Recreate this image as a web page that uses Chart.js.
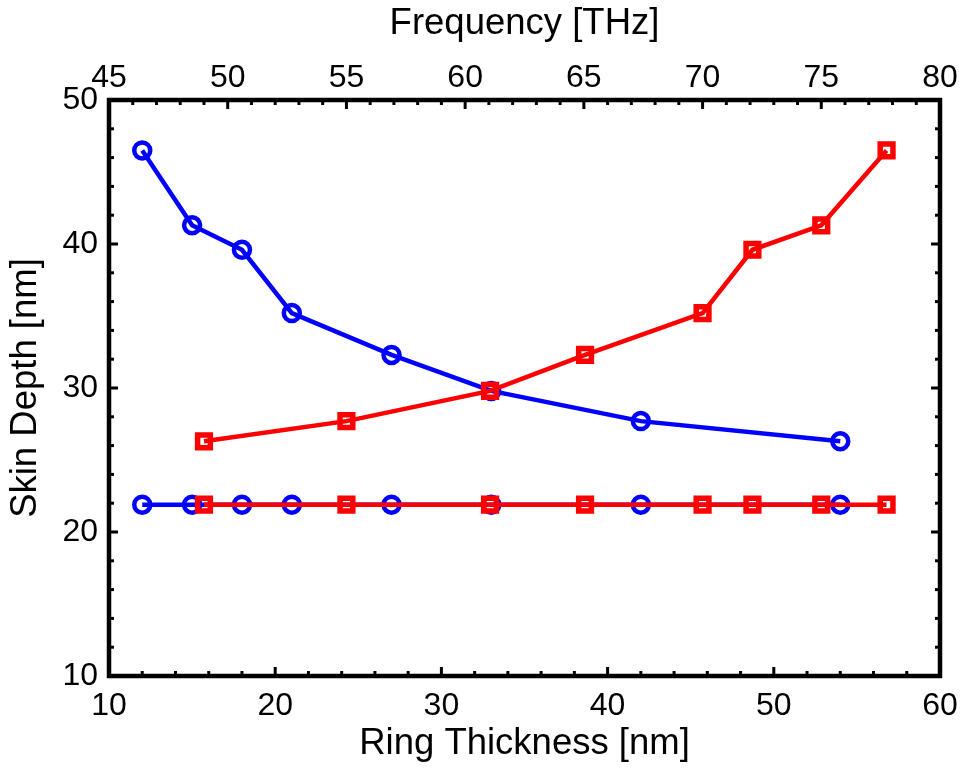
<!DOCTYPE html>
<html>
<head>
<meta charset="utf-8">
<script src="https://cdn.jsdelivr.net/npm/chart.js@4/dist/chart.umd.min.js"></script>
<style>
  html, body { margin: 0; padding: 0; background: #ffffff; }
  #wrap { width: 965px; height: 770px; }
</style>
</head>
<body>
<div id="wrap"><canvas id="c" width="965" height="770"></canvas></div>
<script>
// ---- Data ----
const thickness = [12, 15, 18, 21, 27, 33, 42, 54];                 // Ring Thickness [nm]
const depthVsThickness = [46.5, 41.3, 39.6, 35.2, 32.3, 29.8, 27.7, 26.3];
const flatVsThickness = [21.9, 21.9, 21.9, 21.9, 21.9, 21.9, 21.9, 21.9];

const frequency = [49.0, 55.0, 61.05, 65.05, 70.0, 72.1, 75.0, 77.75]; // Frequency [THz]
const depthVsFrequency = [26.3, 27.7, 29.8, 32.3, 35.2, 39.6, 41.3, 46.5];
const flatVsFrequency = [21.9, 21.9, 21.9, 21.9, 21.9, 21.9, 21.9, 21.9];

const xTitle = 'Ring Thickness [nm]';
const x2Title = 'Frequency [THz]';
const yTitle = 'Skin Depth [nm]';

const BLUE = '#0000ff';
const RED = '#ff0000';
const FONT = '"Liberation Sans", Arial, Helvetica, sans-serif';

function pts(xs, ys) { return xs.map((x, i) => ({ x: x, y: ys[i] })); }

// Inward ticks + frame, drawn through the library's scales
const frameTicks = {
  id: 'frameTicks',
  afterDatasetsDraw(chart) {
    const ctx = chart.ctx;
    const a = chart.chartArea;
    const s = chart.scales;
    ctx.save();
    ctx.strokeStyle = '#000';
    ctx.lineCap = 'butt';
    ctx.lineWidth = 3;
    const MAJ = 9, MIN = 5;
    for (let v = s.x.min; v <= s.x.max + 1e-9; v += 2) {
      const p = s.x.getPixelForValue(v);
      const L = (Math.round(v) % 10 === 0) ? MAJ : MIN;
      ctx.beginPath(); ctx.moveTo(p, a.bottom); ctx.lineTo(p, a.bottom - L); ctx.stroke();
    }
    for (let v = s.x2.min; v <= s.x2.max + 1e-9; v += 1) {
      const p = s.x2.getPixelForValue(v);
      const L = (Math.round(v) % 5 === 0) ? MAJ : MIN;
      ctx.beginPath(); ctx.moveTo(p, a.top); ctx.lineTo(p, a.top + L); ctx.stroke();
    }
    for (let v = s.y.min; v <= s.y.max + 1e-9; v += 2) {
      const p = s.y.getPixelForValue(v);
      const L = (Math.round(v) % 10 === 0) ? MAJ : MIN;
      ctx.beginPath(); ctx.moveTo(a.left, p); ctx.lineTo(a.left + L, p); ctx.stroke();
    }
    for (let v = s.y2.min; v <= s.y2.max + 1e-9; v += 2) {
      const p = s.y2.getPixelForValue(v);
      const L = (Math.round(v) % 10 === 0) ? MAJ : MIN;
      ctx.beginPath(); ctx.moveTo(a.right, p); ctx.lineTo(a.right - L, p); ctx.stroke();
    }
    ctx.lineWidth = 4.5;
    ctx.lineJoin = 'miter';
    ctx.strokeRect(a.left, a.top, a.right - a.left, a.bottom - a.top);
    ctx.restore();
  }
};

const circleStyle = {
  borderColor: BLUE, backgroundColor: 'transparent', borderWidth: 4.5,
  pointStyle: 'circle', pointRadius: 8, pointBorderWidth: 4.5,
  pointBorderColor: BLUE, pointBackgroundColor: 'transparent',
  tension: 0, xAxisID: 'x', yAxisID: 'y', order: 2
};
const squareStyle = {
  borderColor: RED, backgroundColor: 'transparent', borderWidth: 4.5,
  pointStyle: 'rect', pointRadius: 9, pointBorderWidth: 5.5,
  pointBorderColor: RED, pointBackgroundColor: 'transparent',
  tension: 0, xAxisID: 'x2', yAxisID: 'y', order: 1
};

const tickFont = { family: FONT, size: 32, lineHeight: 1 };
const titleFont = { family: FONT, size: 36.5, lineHeight: 1 };

function noPad(scale) {
  scale.paddingLeft = 0; scale.paddingRight = 0;
  scale.paddingTop = 0; scale.paddingBottom = 0;
}

new Chart(document.getElementById('c'), {
  type: 'line',
  data: {
    datasets: [
      Object.assign({ label: 'depth vs thickness', data: pts(thickness, depthVsThickness) }, circleStyle),
      Object.assign({ label: 'flat vs thickness', data: pts(thickness, flatVsThickness) }, circleStyle),
      Object.assign({ label: 'depth vs frequency', data: pts(frequency, depthVsFrequency) }, squareStyle),
      Object.assign({ label: 'flat vs frequency', data: pts(frequency, flatVsFrequency) }, squareStyle)
    ]
  },
  options: {
    responsive: false,
    animation: false,
    devicePixelRatio: 1,
    layout: { padding: 0 },
    plugins: { legend: { display: false }, tooltip: { enabled: false } },
    scales: {
      x: {
        type: 'linear', position: 'bottom', min: 10, max: 60,
        grid: { display: false, drawTicks: false },
        border: { display: false },
        ticks: { stepSize: 10, autoSkip: false, maxRotation: 0, color: '#000', font: tickFont, padding: 14 },
        title: { display: true, text: xTitle, color: '#000', font: titleFont, padding: { top: 0, bottom: 8 } },
        afterFit(scale) { scale.height = 94; noPad(scale); }
      },
      x2: {
        type: 'linear', position: 'top', min: 45, max: 80,
        grid: { display: false, drawTicks: false },
        border: { display: false },
        ticks: { stepSize: 5, autoSkip: false, maxRotation: 0, color: '#000', font: tickFont, padding: 6 },
        title: { display: true, text: x2Title, color: '#000', font: titleFont, padding: { top: 6, bottom: 0 } },
        afterFit(scale) { scale.height = 100; noPad(scale); }
      },
      y: {
        type: 'linear', position: 'left', min: 10, max: 50,
        grid: { display: false, drawTicks: false },
        border: { display: false },
        ticks: { stepSize: 10, autoSkip: false, color: '#000', font: tickFont, padding: 11 },
        title: { display: true, text: yTitle, color: '#000', font: titleFont, padding: { top: 8, bottom: 0 } },
        afterFit(scale) { scale.width = 109; noPad(scale); }
      },
      y2: {
        type: 'linear', position: 'right', min: 10, max: 50,
        grid: { display: false, drawTicks: false },
        border: { display: false },
        ticks: { display: false, stepSize: 10 },
        afterFit(scale) { scale.width = 25; noPad(scale); }
      }
    }
  },
  plugins: [frameTicks]
});
</script>
</body>
</html>
